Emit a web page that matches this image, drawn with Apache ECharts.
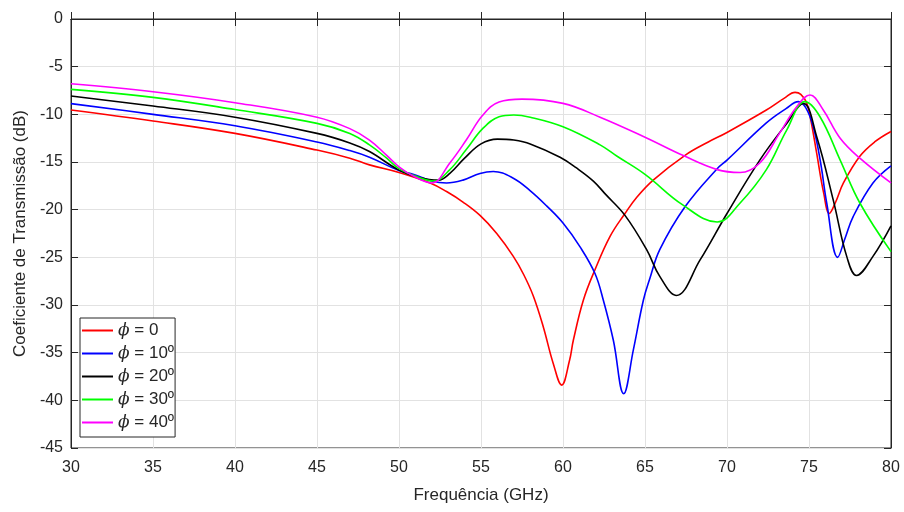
<!DOCTYPE html>
<html><head><meta charset="utf-8">
<script src="https://cdn.jsdelivr.net/npm/echarts@6/dist/echarts.min.js"></script>
<style>html,body{margin:0;padding:0;background:#fff}#c{width:904px;height:512px}</style>
</head><body><div id="c"></div>
<script>
const xTicks = [30,35,40,45,50,55,60,65,70,75,80];
const yTicks = [0,-5,-10,-15,-20,-25,-30,-35,-40,-45];
const seriesNames = ['ϕ = 0','ϕ = 10º','ϕ = 20º','ϕ = 30º','ϕ = 40º'];
const seriesColors = ['#ff0000','#0000ff','#000000','#00ff00','#ff00ff'];

const f0 = [30,35,40,45,47,48.2,50,51.9,52.9,53.9,54.94,55.96,56.97,57.6,58.2,58.8,59.4,59.92,60.4,60.63,61.24,61.95,62.87,63.78,64.5,65.5,67.44,68.86,70,72.4,73.5,74.15,74.5,74.86,75.1,75.47,75.9,76.24,76.6,77.1,78.1,79,80];
const s0 = [-9.55,-10.7,-12.0,-13.75,-14.6,-15.3,-16.1,-17.2,-18.1,-19.2,-20.6,-22.5,-24.9,-26.8,-29.1,-32.3,-36.1,-38.4,-35.8,-33.7,-29.5,-26.3,-22.8,-20.4,-18.7,-16.9,-14.3,-12.9,-11.9,-9.55,-8.3,-7.7,-7.9,-8.8,-10.5,-14.1,-18.3,-20.4,-19.3,-17.2,-14.4,-12.9,-11.8];

const f1 = [30,35,40,45,47,48.2,50,50.9,52.0,52.9,53.9,54.94,55.75,56.97,57.99,59.0,60.0,61.04,61.95,62.46,63.07,63.7,64.29,64.9,65.3,65.9,67.44,69.4,70,72.4,73.6,74.35,74.8,75.26,75.7,76.08,76.75,77.2,77.7,78.9,80];
const s1 = [-8.88,-10.0,-11.2,-12.9,-13.8,-14.5,-15.9,-16.3,-17.0,-17.2,-16.9,-16.2,-16.0,-16.7,-18.0,-19.6,-21.4,-23.9,-26.7,-29.5,-33.7,-39.3,-34.7,-29.5,-27.2,-24.2,-19.7,-15.7,-14.8,-10.9,-9.4,-8.67,-9.3,-11.3,-15.0,-19.3,-25.0,-23.0,-20.7,-17.2,-15.4];

const f2 = [30,35,40,45,47,48.2,50,51.2,52.4,53.1,54.0,55.0,56.0,57.0,58.0,59.82,60.8,61.85,62.6,63.78,65.1,65.9,66.9,68.35,70,72,73.64,74.65,75.47,76.48,77.3,77.9,78.9,80];
const s2 = [-8.08,-9.13,-10.3,-12.0,-13.0,-13.9,-15.85,-16.6,-16.9,-16.2,-14.6,-13.1,-12.6,-12.7,-13.1,-14.5,-15.6,-17.0,-18.4,-20.6,-24.2,-27.0,-29.0,-25.3,-20.4,-14.8,-10.95,-8.85,-12.35,-19.0,-24.9,-26.9,-24.9,-21.7];

const f3 = [30,35,40,45,47,48.2,49.25,50,51.2,52.1,53.1,54.1,55.1,56.1,57.0,58,60,62.26,63.3,65,67.3,69.4,70.8,72.4,73.64,74.75,75.67,76.9,78.1,80];
const s3 = [-7.38,-8.22,-9.5,-10.95,-12.0,-13.2,-14.6,-15.7,-16.6,-17.0,-15.8,-13.7,-11.5,-10.25,-10.07,-10.3,-11.3,-13.2,-14.4,-16.3,-19.5,-21.3,-19.3,-15.8,-11.65,-8.67,-10.25,-14.8,-19.3,-24.4];

const f4 = [30,35,40,45,47,48.2,49.25,50,50.9,52.0,53.1,54.1,55.1,56.1,57.5,60,62.26,65,67.3,69.4,70.8,72.0,73.2,74.25,75.06,75.87,76.9,78.1,80];
const s4 = [-6.79,-7.63,-8.78,-10.3,-11.5,-12.7,-14.3,-15.5,-16.5,-17.2,-15.1,-12.7,-10.1,-8.7,-8.4,-8.85,-10.3,-12.4,-14.3,-15.8,-16.1,-15.1,-12.0,-9.2,-7.97,-9.55,-12.5,-14.6,-17.2];

const freqs = [f0,f1,f2,f3,f4];
const vals = [s0,s1,s2,s3,s4];

const chart = echarts.init(document.getElementById('c'), null, {renderer:'canvas'});
const font = 'Liberation Sans, Arial, Helvetica, sans-serif';
const txt = '#262626';
const series = seriesNames.map((n,i)=>({
  name:n, type:'line', xAxisIndex:0, yAxisIndex:0,
  data: freqs[i].map((x,j)=>[x, vals[i][j]]),
  showSymbol:false, symbol:'none', smooth:0.4,
  lineStyle:{color:seriesColors[i], width:1.6}, itemStyle:{color:seriesColors[i]},
  clip:true, animation:false
}));
chart.setOption({
  animation:false,
  backgroundColor:'#fff',
  grid:{left:71,right:13,top:19,bottom:64,show:true,borderColor:txt,borderWidth:1,backgroundColor:'#fff'},
  legend:{
    orient:'vertical', left:80, top:318,
    backgroundColor:'#fff', borderColor:txt, borderWidth:1,
    padding:[4,1,6,2], itemGap:6, itemWidth:31, itemHeight:2,
    icon:'rect',
    formatter:(n)=> '{i|ϕ}' + n.slice(1),
    textStyle:{fontFamily:font,fontSize:17,color:txt,rich:{i:{fontStyle:'italic',fontFamily:'DejaVu Serif, serif',fontSize:17,color:txt}}},
    data:seriesNames
  },
  xAxis:[{
    type:'value', min:30, max:80, interval:5, position:'bottom',
    name:'Frequência (GHz)', nameLocation:'middle', nameGap:39,
    nameTextStyle:{fontFamily:font,fontSize:17,color:txt},
    axisLine:{show:true,lineStyle:{color:txt}},
    axisTick:{show:true,inside:true,length:7,lineStyle:{color:txt}},
    axisLabel:{fontFamily:font,fontSize:16,color:txt,margin:12},
    splitLine:{show:true,lineStyle:{color:'#e2e2e2',width:1}}
  },{
    type:'value', min:30, max:80, interval:5, position:'top',
    axisLine:{show:true,lineStyle:{color:txt}},
    axisTick:{show:true,inside:true,length:7,lineStyle:{color:txt}},
    axisLabel:{show:false}, splitLine:{show:false}
  }],
  yAxis:[{
    type:'value', min:-45, max:0, interval:5, position:'left',
    name:'Coeficiente de Transmissão (dB)', nameLocation:'middle', nameGap:35,
    nameTextStyle:{fontFamily:font,fontSize:17,color:txt},
    axisLine:{show:true,lineStyle:{color:txt}},
    axisTick:{show:true,inside:true,length:7,lineStyle:{color:txt}},
    axisLabel:{fontFamily:font,fontSize:16,color:txt,margin:8},
    splitLine:{show:true,lineStyle:{color:'#e2e2e2',width:1}}
  },{
    type:'value', min:-45, max:0, interval:5, position:'right',
    axisLine:{show:true,lineStyle:{color:txt}},
    axisTick:{show:true,inside:true,length:7,lineStyle:{color:txt}},
    axisLabel:{show:false}, splitLine:{show:false}
  }],
  series:series
});
</script></body></html>
